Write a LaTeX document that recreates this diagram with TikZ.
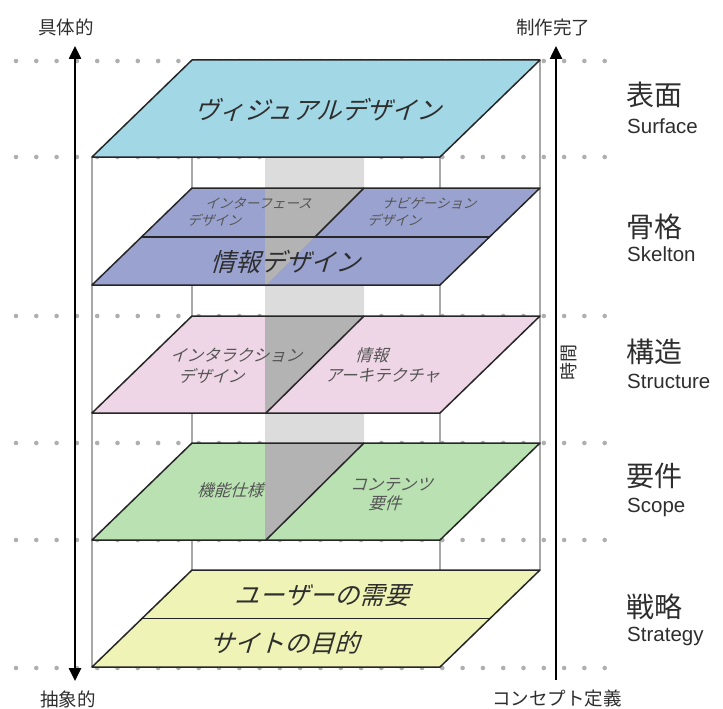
\documentclass[tikz,border=0pt]{standalone}
\usepackage{fontspec}
\newfontfamily\jp{Noto Sans CJK JP}
\newfontfamily\jpsl[FakeSlant=0.3]{Noto Sans CJK JP}
\newfontfamily\lsans{Liberation Sans}
\usetikzlibrary{arrows.meta}
\definecolor{cSurf}{HTML}{A2D7E6}
\definecolor{cSkel}{HTML}{9AA3D0}
\definecolor{cStru}{HTML}{EFD6E6}
\definecolor{cScop}{HTML}{B9E1B2}
\definecolor{cStra}{HTML}{EFF3B5}
\definecolor{cBand}{HTML}{DCDCDC}
\definecolor{cDark}{HTML}{B3B3B3}
\definecolor{cDot}{HTML}{AFAFAF}
\definecolor{cBox}{HTML}{A8A8A8}
\definecolor{cTxt}{HTML}{2E2E2E}
\definecolor{cMid}{HTML}{555555}
\begin{document}
\begin{tikzpicture}[x=1pt,y=-1pt,
  planeline/.style={draw=black!85, line width=1.5pt, line join=round},
  boxline/.style={draw=cBox, line width=1.2pt},
  bigjp/.style={font=\jpsl\fontsize{25}{25}\selectfont, text=cTxt, inner sep=0},
  midjp/.style={font=\jpsl\fontsize{16.5}{17}\selectfont, text=cMid, inner sep=0, anchor=west},
  smalljp/.style={font=\jpsl\fontsize{13.5}{14}\selectfont, text=cMid, inner sep=0, anchor=west},
  sidejp/.style={font=\jp\fontsize{28}{28}\selectfont, text=cTxt, inner sep=0, anchor=west},
  sideen/.style={font=\lsans\fontsize{20.5}{21}\selectfont, text=cTxt, inner sep=0, anchor=west},
  endjp/.style={font=\jp\fontsize{18.5}{19}\selectfont, text=cTxt, inner sep=0},
  axisline/.style={line width=2.5pt, draw=black}
]
\useasboundingbox (0,0) rectangle (723,709);

% dotted guide rows
\foreach \yy in {61,157,316,443,540,668}{
  \foreach \i in {0,...,29}{
    \fill[cDot] ({16+\i*20.3},\yy) circle (2.3pt);
  }
}

% box edges
\draw[boxline] (92,157) -- (92,667);
\draw[boxline] (440,157) -- (440,667);
\draw[boxline] (192,60) -- (192,570);
\draw[boxline] (540,60) -- (540,570);

% grey wall band
\fill[cBand] (265,157) -- (364,157) -- (364,443) -- (265,540) -- cycle;

% ---------- Surface ----------
\fill[cSurf] (92,157) -- (440,157) -- (540,60) -- (192,60) -- cycle;
\draw[planeline] (92,157) -- (440,157) -- (540,60) -- (192,60) -- cycle;
\node[bigjp] (vis) at (318,110) {ヴィジュアルデザイン};

% ---------- Skeleton ----------
\fill[cSkel] (92,285) -- (440,285) -- (540,188) -- (192,188) -- cycle;
\fill[cDark] (265,188) -- (364,188) -- (265,286) -- cycle;
\draw[planeline] (92,285) -- (440,285) -- (540,188) -- (192,188) -- cycle;
\draw[planeline] (141.5,237) -- (489.5,237);
\draw[planeline] (364,188) -- (315,237);
\node[smalljp] (if1) at (205,203) {インターフェース};
\node[smalljp] (if2) at (187,220) {デザイン};
\node[smalljp] (nv1) at (382,203) {ナビゲーション};
\node[smalljp] (nv2) at (367,220) {デザイン};
\node[bigjp] (info) at (285,262) {情報デザイン};

% ---------- Structure ----------
\fill[cStru] (92,413) -- (440,413) -- (540,316) -- (192,316) -- cycle;
\fill[cDark] (265,316) -- (364,316) -- (266,413) -- (265,413) -- cycle;
\draw[planeline] (92,413) -- (440,413) -- (540,316) -- (192,316) -- cycle;
\draw[planeline] (364,316) -- (266,413);
\node[midjp] (ix1) at (170,355) {インタラクション};
\node[midjp] (ix2) at (178,376) {デザイン};
\node[midjp] (ia1) at (355,355) {情報};
\node[midjp] (ia2) at (325,376) {アーキテクチャ};

% ---------- Scope ----------
\fill[cScop] (92,540) -- (440,540) -- (540,443) -- (192,443) -- cycle;
\fill[cDark] (265,443) -- (364,443) -- (266,540) -- (265,540) -- cycle;
\draw[planeline] (92,540) -- (440,540) -- (540,443) -- (192,443) -- cycle;
\draw[planeline] (364,443) -- (266,540);
\node[midjp] (fs) at (197,490) {機能仕様};
\node[midjp] (ct1) at (350,485) {コンテンツ};
\node[midjp] (ct2) at (368,503) {要件};

% ---------- Strategy ----------
\fill[cStra] (92,667) -- (440,667) -- (540,570) -- (192,570) -- cycle;
\draw[planeline] (92,667) -- (440,667) -- (540,570) -- (192,570) -- cycle;
\draw[planeline] (142,618.5) -- (490,618.5);
\node[bigjp] (user) at (322,596) {ユーザーの需要};
\node[bigjp] (site) at (284,643) {サイトの目的};

% ---------- axes ----------
\coordinate (lt) at (75,46);
\coordinate (lb) at (75,681);
\coordinate (rt) at (556,46);
\coordinate (rb) at (556,680);
\draw[axisline, {Triangle[length=13pt,width=12pt]}-{Triangle[length=13pt,width=12pt]}] (lt) -- (lb);
\draw[axisline, -{Triangle[length=13pt,width=12pt]}] (rb) -- (rt);

\node[endjp] (concrete) at (66,27) {具体的};
\node[endjp] (done) at (553,27) {制作完了};
\node[endjp] (abstract) at (68,699) {抽象的};
\node[endjp] (concept) at (557,698) {コンセプト定義};
\node[font=\jp\fontsize{18}{18}\selectfont, text=cTxt, inner sep=0, rotate=90] (time) at (569,362) {時間};

% ---------- side labels ----------
\node[sidejp] (l1) at (626,95) {表面};
\node[sideen] (e1) at (627,126) {Surface};
\node[sidejp] (l2) at (626,227) {骨格};
\node[sideen] (e2) at (627,254) {Skelton};
\node[sidejp] (l3) at (626,352) {構造};
\node[sideen] (e3) at (627,381) {Structure};
\node[sidejp] (l4) at (626,476) {要件};
\node[sideen] (e4) at (627,507) {Scope};
\node[sidejp] (l5) at (626,607) {戦略};
\node[sideen] (e5) at (627,636) {Strategy};
\end{tikzpicture}
\end{document}
